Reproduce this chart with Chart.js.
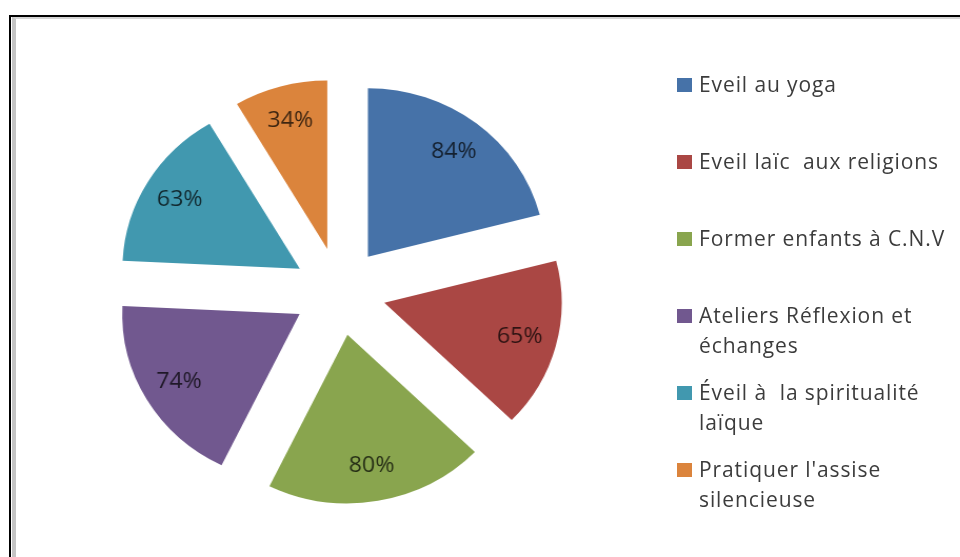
<!DOCTYPE html>
<html>
<head>
<meta charset="utf-8">
<script src="https://cdn.jsdelivr.net/npm/chart.js@4/dist/chart.umd.min.js"></script>
<style>
    html, body { margin: 0; padding: 0; background: #fff; }
    #wrap { position: relative; width: 960px; height: 557px; overflow: hidden; }
    #frame { position: absolute; left: 9px; top: 15px; width: 1000px; height: 600px; border-left: 2px solid #000; border-top: 2px solid #000; }
    #frame2 { position: absolute; left: 12px; top: 17px; width: 1000px; height: 600px; border-left: 4px solid #c4c4c4; border-top: 2px solid #d4d4d4; }
    /* the original picture is slightly stretched horizontally */
    #chart { position: absolute; left: 0; top: 0; transform: scaleX(1.053); transform-origin: 339.5px 0; }
    #legend { position: absolute; left: 0; top: 0; }
    .item { position: absolute; left: 677px; font-family: "Open Sans", sans-serif; font-size: 21px; line-height: 30px; color: #3c3c3c; white-space: pre; letter-spacing: 0.9px; }
    .item .box { position: absolute; left: 0; top: 9px; width: 15px; height: 14px; }
    .item .txt { margin-left: 22px; }
</style>
</head>
<body>
<div id="wrap">
    <div id="frame"></div>
    <div id="frame2"></div>
    <canvas id="chart" width="960" height="557"></canvas>
    <div id="legend"></div>
</div>
<script>
// Data
const categories = [
    'Eveil au yoga',
    'Eveil laïc  aux religions',
    'Former enfants à C.N.V',
    ['Ateliers Réflexion et', 'échanges'],
    ['Éveil à  la spiritualité', 'laïque'],
    ["Pratiquer l'assise", 'silencieuse']
];
const values = [84, 65, 80, 74, 63, 34];
const valueLabels = ['84%', '65%', '80%', '74%', '63%', '34%'];
const colors = ['#4672a8', '#aa4744', '#89a54e', '#71588f', '#4198af', '#db843c'];

const EXPLODE = 44;      // distance each slice is pulled out
const LABEL_POS = 0.79;  // label distance as fraction of radius

// Pull each slice out along its middle angle (exploded pie)
const explodePlugin = {
    id: 'explode',
    afterDatasetUpdate(chart, args) {
        args.meta.data.forEach(arc => {
            const mid = (arc.startAngle + arc.endAngle) / 2;
            arc.x += Math.cos(mid) * EXPLODE;
            arc.y += Math.sin(mid) * EXPLODE;
        });
    }
};

// Percent labels inside slices
const sliceLabels = {
    id: 'sliceLabels',
    afterDatasetsDraw(chart) {
        const ctx = chart.ctx;
        const meta = chart.getDatasetMeta(0);
        ctx.save();
        ctx.font = '22px "Open Sans"';
        ctx.fillStyle = 'rgba(0, 0, 0, 0.72)';
        ctx.textAlign = 'center';
        ctx.textBaseline = 'middle';
        meta.data.forEach((arc, i) => {
            const mid = (arc.startAngle + arc.endAngle) / 2;
            const r = arc.outerRadius * LABEL_POS;
            ctx.fillText(valueLabels[i], arc.x + Math.cos(mid) * r, arc.y + Math.sin(mid) * r);
        });
        ctx.restore();
    }
};

const ctx = document.getElementById('chart').getContext('2d');
const chart = new Chart(ctx, {
    type: 'pie',
    data: {
        labels: categories,
        datasets: [{
            data: values,
            backgroundColor: colors,
            borderWidth: 0,
            hoverBorderWidth: 0,
            offset: 0,
            hoverOffset: 0,
            clip: false
        }]
    },
    options: {
        responsive: false,
        animation: false,
        events: [],
        layout: {
            padding: { left: 171, right: 452, top: 123, bottom: 97 }
        },
        plugins: {
            legend: { display: false },
            tooltip: { enabled: false }
        }
    },
    plugins: [explodePlugin, sliceLabels]
});

// Legend on the right
const legend = document.getElementById('legend');
categories.forEach((cat, i) => {
    const item = document.createElement('div');
    item.className = 'item';
    item.style.top = (69 + i * 77) + 'px';
    const box = document.createElement('div');
    box.className = 'box';
    box.style.background = colors[i];
    const txt = document.createElement('div');
    txt.className = 'txt';
    txt.textContent = Array.isArray(cat) ? cat.join('\n') : cat;
    item.appendChild(box);
    item.appendChild(txt);
    legend.appendChild(item);
});
</script>
</body>
</html>
